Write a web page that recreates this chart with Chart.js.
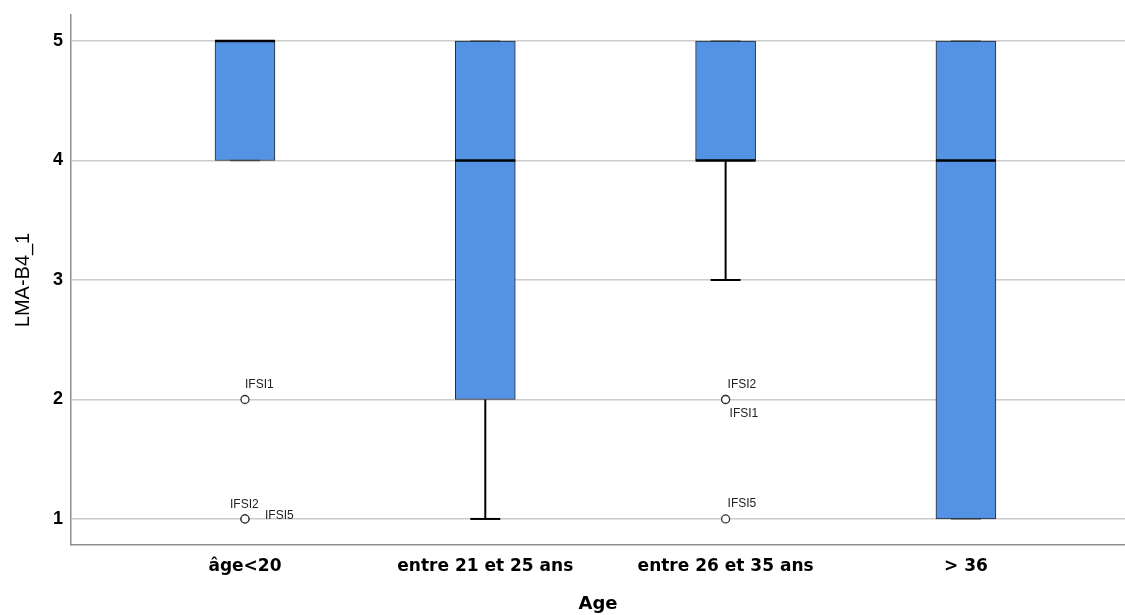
<!DOCTYPE html>
<html><head><meta charset="utf-8">
<script src="https://cdn.jsdelivr.net/npm/chart.js@4/dist/chart.umd.min.js"></script>
<style>html,body{margin:0;padding:0;background:#fff;overflow:hidden}canvas{display:block}</style>
</head><body><canvas id="c" width="1125" height="615" style="width:1125px;height:615px"></canvas>
<script>
// ---- data ----
const categories = ['âge<20', 'entre 21 et 25 ans', 'entre 26 et 35 ans', '> 36'];
const q1 = [4, 2, 4, 1];
const q3 = [5, 5, 5, 5];
const medians = [5, 4, 4, 4];
const whiskerLow = [4, 1, 3, 1];
const whiskerHigh = [5, 5, 5, 5];
const outlierCat = [0, 0, 0, 2, 2, 2];
const outlierValue = [2, 1, 1, 2, 2, 1];
const outlierLabel = ['IFSI1', 'IFSI2', 'IFSI5', 'IFSI2', 'IFSI1', 'IFSI5'];
const yTicks = [1, 2, 3, 4, 5];
const xTitle = 'Age';
const yTitle = 'LMA-B4_1';

// ---- styles (pixel offsets for outlier labels) ----
const labelOffsets = [[0, -15], [-15, -14], [20, -3], [2, -15], [4, 14], [2, -15]];
const FONT = '"Liberation Sans", Arial, sans-serif';
const WIDE = '"DejaVu Sans", sans-serif';

const boxData = categories.map((c, i) => ({ x: i + 1, y: [q1[i], q3[i]] }));
const outlierData = outlierValue.map((v, i) => ({ x: outlierCat[i] + 1, y: v }));

const boxPlugin = {
  id: 'boxExtras',
  afterDatasetsDraw(chart) {
    const { ctx, scales: { x, y } } = chart;
    const half = 30, capHalf = 15;
    ctx.save();
    categories.forEach((c, i) => {
      const cx = x.getPixelForValue(i + 1);
      [[whiskerLow[i], q1[i]], [whiskerHigh[i], q3[i]]].forEach(([w, edge]) => {
        const wy = y.getPixelForValue(w);
        const ey = y.getPixelForValue(edge);
        if (w !== edge) {
          ctx.strokeStyle = '#000';
          ctx.lineWidth = 2;
          ctx.beginPath(); ctx.moveTo(cx, ey); ctx.lineTo(cx, wy); ctx.stroke();
          ctx.beginPath(); ctx.moveTo(cx - capHalf, wy); ctx.lineTo(cx + capHalf, wy); ctx.stroke();
        } else {
          ctx.strokeStyle = 'rgba(40,40,40,0.6)';
          ctx.lineWidth = 1.5;
          ctx.beginPath(); ctx.moveTo(cx - capHalf, wy); ctx.lineTo(cx + capHalf, wy); ctx.stroke();
        }
      });
      const my = y.getPixelForValue(medians[i]);
      ctx.strokeStyle = '#000';
      ctx.lineWidth = 2.5;
      ctx.beginPath(); ctx.moveTo(cx - half, my); ctx.lineTo(cx + half, my); ctx.stroke();
    });
    ctx.font = '12px ' + FONT;
    ctx.fillStyle = '#222';
    ctx.textAlign = 'left';
    ctx.textBaseline = 'middle';
    outlierLabel.forEach((t, i) => {
      const px = x.getPixelForValue(outlierCat[i] + 1);
      const py = y.getPixelForValue(outlierValue[i]);
      ctx.fillText(t, px + labelOffsets[i][0], py + labelOffsets[i][1]);
    });
    ctx.restore();
  }
};

const chart = new Chart(document.getElementById('c'), {
  type: 'bar',
  data: {
    datasets: [
      {
        type: 'bar',
        data: boxData,
        backgroundColor: '#5493e3',
        borderColor: '#2b2b2b',
        borderWidth: 1,
        borderSkipped: false,
        barThickness: 60,
        order: 2
      },
      {
        type: 'scatter',
        data: outlierData,
        pointRadius: 4,
        pointBackgroundColor: '#fff',
        pointBorderColor: '#333',
        pointBorderWidth: 1.3,
        order: 1
      }
    ]
  },
  options: {
    responsive: false,
    maintainAspectRatio: false,
    devicePixelRatio: 1,
    animation: false,
    layout: { padding: { top: 15, left: 0, right: 0, bottom: 0 } },
    plugins: { legend: { display: false }, tooltip: { enabled: false } },
    scales: {
      x: {
        type: 'linear',
        offset: false,
        min: 0.276,
        max: 4.662,
        grid: { display: true, color: 'rgba(0,0,0,0)', drawTicks: false, offset: false },
        border: { display: true, color: '#8f8f8f', width: 1.5 },
        afterBuildTicks: s => { s.ticks = categories.map((c, i) => ({ value: i + 1 })); },
        afterFit: s => { s.height = 70; s.paddingLeft = 0; s.paddingRight = 0; },
        ticks: {
          padding: 11,
          autoSkip: false,
          maxRotation: 0,
          color: '#000',
          font: { family: WIDE, size: 17, weight: 'bold' },
          callback: v => categories[v - 1]
        },
        title: {
          display: true, text: xTitle, color: '#000',
          font: { family: WIDE, size: 18, weight: 'bold' },
          padding: { top: 0, bottom: 0 }
        }
      },
      y: {
        type: 'linear',
        min: 0.782,
        max: 5.218,
        grid: { color: '#cccccc', lineWidth: 1.5, drawTicks: false },
        border: { display: true, color: '#8f8f8f', width: 1.5 },
        afterBuildTicks: s => { s.ticks = yTicks.map(v => ({ value: v })); },
        afterFit: s => { s.width = 71; s.paddingTop = 0; s.paddingBottom = 0; },
        ticks: {
          padding: 8,
          color: '#000',
          font: { family: FONT, size: 18, weight: 'bold' }
        },
        title: {
          display: true, text: yTitle, color: '#000',
          font: { family: FONT, size: 20 },
          padding: { top: 11, bottom: 0 }
        }
      }
    }
  },
  plugins: [boxPlugin]
});
// let the plot area run to the right edge, as in the reference
chart.getDatasetMeta(1).controller.getMaxOverflow = () => 0;
chart.update();
</script>
</body></html>
